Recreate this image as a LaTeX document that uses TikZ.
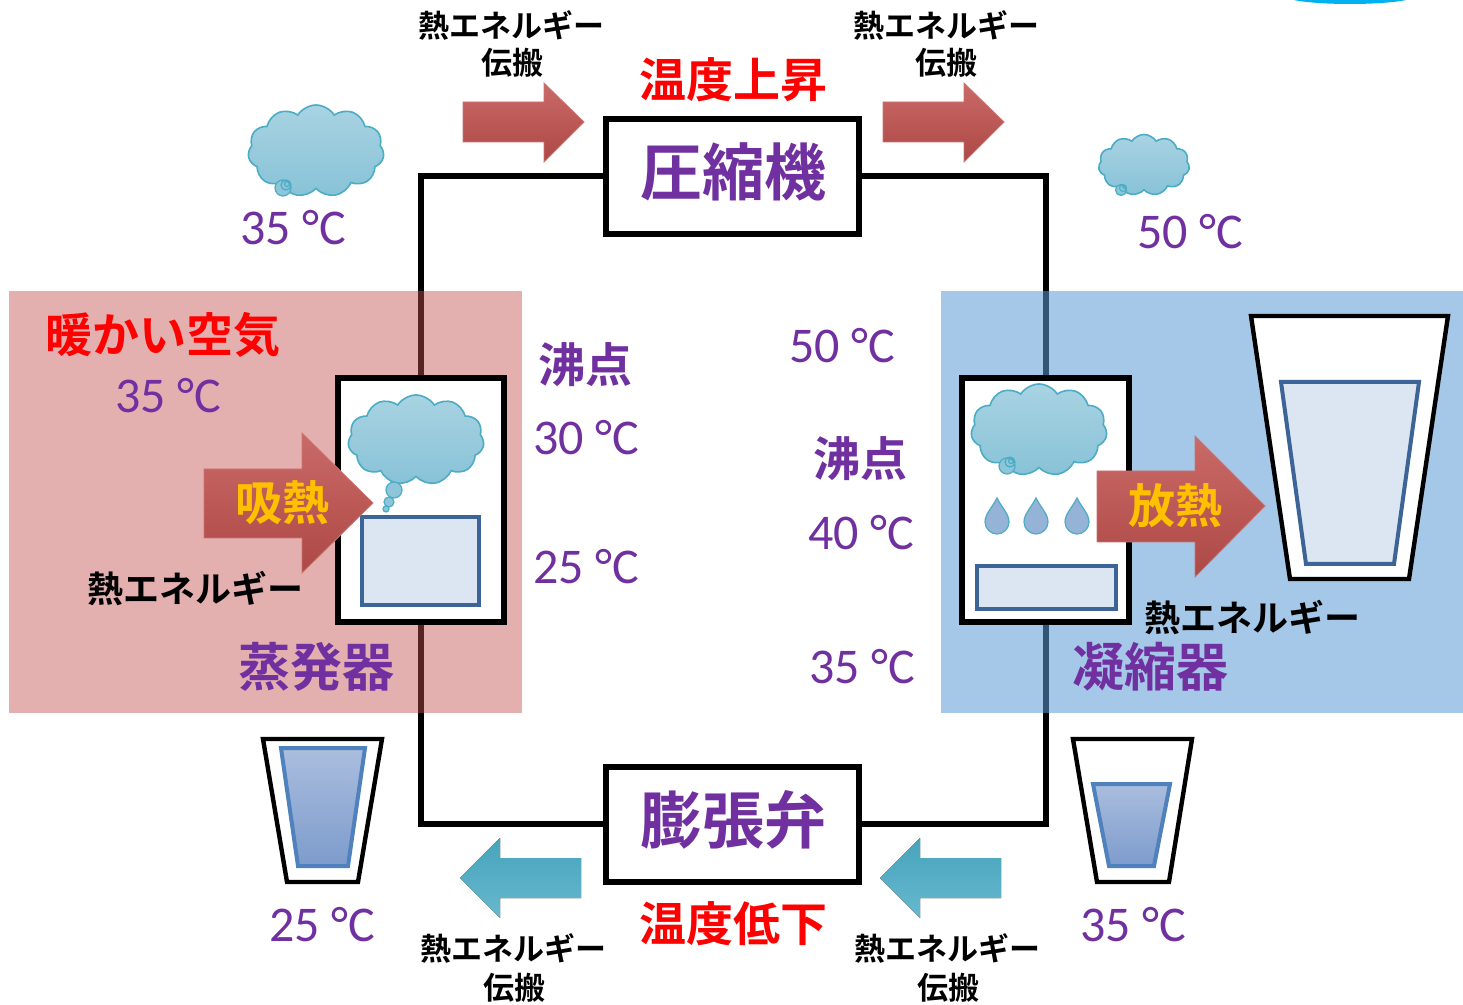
\documentclass[tikz,border=0pt]{standalone}
\usepackage{fontspec}
\usetikzlibrary{shapes.symbols}
\newfontfamily\jpfont{Noto Sans CJK JP Bold}
\newfontfamily\numfont{Carlito}
\definecolor{purp}{HTML}{7030A0}
\definecolor{hotred}{HTML}{C0504D}
\definecolor{coolblue}{HTML}{5B9BD5}
\definecolor{gold}{HTML}{FFC000}
\definecolor{cloudedge}{HTML}{4BACC6}
\definecolor{cloudtop}{HTML}{A8D3E2}
\definecolor{cloudbot}{HTML}{88C2D7}
\definecolor{tankedge}{HTML}{3D6496}
\definecolor{tankfill}{HTML}{DCE6F2}
\definecolor{wateredge}{HTML}{4F81BD}
\definecolor{watertop}{HTML}{AABEDE}
\definecolor{waterbot}{HTML}{7D9BCC}
\definecolor{dropfill}{HTML}{95B3D7}
\definecolor{sky}{HTML}{00B0F0}
\begin{document}
\begin{tikzpicture}[x=0.5pt,y=-0.5pt,
  pipe/.style={line width=3pt, draw=black},
  unitbox/.style={draw=black, line width=3pt, fill=white, inner sep=0},
  tank/.style={draw=tankedge, line width=2pt, fill=tankfill, inner sep=0},
  cloudy/.style={cloud, cloud puffs=11, cloud puff arc=115, aspect=1.5,
    draw=cloudedge, line width=0.8pt, top color=cloudtop, bottom color=cloudbot, inner sep=0},
  puff/.style={draw=cloudedge, line width=0.6pt, fill=cloudbot!80!cloudtop},
  redarrow/.style={top color=hotred!85!white, bottom color=hotred!90!black, draw=hotred!80!white, line width=0.4pt},
  cyanarrow/.style={top color=cloudedge!95!black, bottom color=cloudedge!85!white, draw=none},
  cup/.style={draw=black, line width=2.2pt, fill=white},
  water/.style={draw=wateredge, line width=2pt, top color=watertop, bottom color=waterbot},
  drop/.style={draw=cloudedge, line width=0.6pt, fill=dropfill},
  jpsmall/.style={font={\jpfont\fontsize{15.5}{18}\selectfont}, inner sep=0},
  jpmid/.style={font={\jpfont\fontsize{18}{21}\selectfont}, inner sep=0},
  jplarge/.style={font={\jpfont\fontsize{23.5}{27}\selectfont}, inner sep=0},
  jpunit/.style={font={\jpfont\fontsize{26}{30}\selectfont}, text=purp, inner sep=0},
  jptitle/.style={font={\jpfont\fontsize{31}{36}\selectfont}, text=purp, inner sep=0},
  temp/.style={font={\numfont\fontsize{25}{30}\selectfont}, text=purp, inner sep=0}]
\useasboundingbox (0,0) rectangle (1463,1005);

% blue disc peeking in at the top edge
\fill[sky] (1350,-4) ellipse [x radius=65, y radius=8];

% machine boxes
\node[unitbox, minimum width=126.5pt, minimum height=57.5pt] (comp) at (732.5,176.5) {};
\node[unitbox, minimum width=126.5pt, minimum height=57.5pt] (valve) at (732.5,824) {};
\node[unitbox, minimum width=83pt, minimum height=122pt] (evap) at (421,500) {};
\node[unitbox, minimum width=83.5pt, minimum height=122pt] (cond) at (1045.5,500) {};

% refrigerant loop
\draw[pipe] (comp.west) -| (evap.north);
\draw[pipe] (evap.south) |- (valve.west);
\draw[pipe] (comp.east) -| (cond.north);
\draw[pipe] (cond.south) |- (valve.east);

% warm and cool zones
\fill[hotred, fill opacity=0.45] (9,291) rectangle (522,713);
\fill[coolblue, fill opacity=0.55] (941,291) rectangle (1463,713);

% boxes redrawn above the zones
\node[unitbox, minimum width=83pt, minimum height=122pt] at (evap) {};
\node[unitbox, minimum width=83.5pt, minimum height=122pt] at (cond) {};
\node[unitbox, minimum width=126.5pt, minimum height=57.5pt] at (comp) {};
\node[unitbox, minimum width=126.5pt, minimum height=57.5pt] at (valve) {};

\node[jptitle] (compL) at (733,172) {圧縮機};
\node[jptitle] (valveL) at (733,820) {膨張弁};

% evaporator contents
\node[cloudy, minimum width=68pt, minimum height=45pt] (evcloud) at (416,440) {};
\draw[puff] (394,490) circle [radius=8];
\draw[puff] (389,502) circle [radius=5];
\draw[puff] (386,509) circle [radius=3];
\node[tank, minimum width=58.5pt, minimum height=44pt] (evtank) at (420.5,561) {};

% condenser contents
\node[cloudy, minimum width=68pt, minimum height=46pt] (cdcloud) at (1039,430) {};
\draw[puff] (1007,466) circle [radius=8];
\draw[cloudedge, line width=0.6pt] (1010,462) circle [radius=5] (1011,461) circle [radius=2.5];
\foreach \dx in {997,1036,1077}
  \draw[drop] (\dx,498) .. controls (\dx-5,508) and (\dx-12,514) .. (\dx-12,522)
    .. controls (\dx-12,529) and (\dx-6,534) .. (\dx,534)
    .. controls (\dx+6,534) and (\dx+12,529) .. (\dx+12,522)
    .. controls (\dx+12,514) and (\dx+5,508) .. (\dx,498) -- cycle;
\node[tank, minimum width=69.5pt, minimum height=21.5pt] (cdtank) at (1046.5,587.5) {};

% outside clouds
\node[cloudy, minimum width=68pt, minimum height=46pt] (cloudL) at (316,151) {};
\draw[puff] (283,188) circle [radius=8];
\draw[cloudedge, line width=0.6pt] (286,185) circle [radius=5] (287,184) circle [radius=2.5];
\node[cloudy, minimum width=45.5pt, minimum height=30.5pt] (cloudR) at (1144,165) {};
\draw[puff] (1121,190) circle [radius=5.5];
\draw[cloudedge, line width=0.5pt] (1123,188) circle [radius=3.5] (1124,187) circle [radius=1.5];

% heat arrows
\draw[redarrow] (204,469) -- (302,469) -- (302,433) -- (373,503) -- (302,573) -- (302,538) -- (204,538) -- cycle;
\node[jplarge, text=gold] (absorb) at (282,503) {吸熱};
\draw[redarrow] (1097,471) -- (1195,471) -- (1195,436) -- (1265,506) -- (1195,577) -- (1195,542) -- (1097,542) -- cycle;
\node[jplarge, text=gold] (release) at (1175,506) {放熱};

% transport arrows
\foreach \ox in {0,420}
  \draw[redarrow] (463+\ox,102) -- (544+\ox,102) -- (544+\ox,83) -- (584+\ox,122) -- (544+\ox,162) -- (544+\ox,142) -- (463+\ox,142) -- cycle;
\foreach \ox in {0,420}
  \fill[cyanarrow] (581+\ox,858) -- (500+\ox,858) -- (500+\ox,838) -- (460+\ox,878) -- (500+\ox,918) -- (500+\ox,898) -- (581+\ox,898) -- cycle;

% cups
\draw[cup] (1251,316) -- (1448,316) -- (1409,579) -- (1290,579) -- cycle;
\draw[tank] (1281,382) -- (1419,382) -- (1394,564) -- (1306,564) -- cycle;
\draw[cup] (263,739) -- (382,739) -- (358,882) -- (287,882) -- cycle;
\draw[water] (281,748) -- (365,748) -- (348,866) -- (298,866) -- cycle;
\draw[cup] (1073,739) -- (1192,739) -- (1169,882) -- (1097,882) -- cycle;
\draw[water] (1093,784) -- (1170,784) -- (1154,866) -- (1109,866) -- cycle;

% labels
\node[jpsmall] (t1a) at (511,25) {熱エネルギー};
\node[jpsmall] (t1b) at (512,63) {伝搬};
\node[jpsmall] (t2a) at (946,25) {熱エネルギー};
\node[jpsmall] (t2b) at (946,63) {伝搬};
\node[jpsmall] (b1a) at (513,948) {熱エネルギー};
\node[jpsmall] (b1b) at (514,988) {伝搬};
\node[jpsmall] (b2a) at (947,948) {熱エネルギー};
\node[jpsmall] (b2b) at (948,988) {伝搬};
\node[jplarge, text=red] (rise) at (733,80) {温度上昇};
\node[jplarge, text=red] (fall) at (733,924) {温度低下};
\node[jplarge, text=red] (warm) at (163,335) {暖かい空気};
\node[jpmid] (heatL) at (195,588) {熱エネルギー};
\node[jpmid] (heatR) at (1252,617) {熱エネルギー};
\node[jpunit] (evapL) at (316,667) {蒸発器};
\node[jpunit] (condL) at (1150,667) {凝縮器};
\node[jplarge, text=purp] (bpL) at (585,365) {沸点};
\node[jplarge, text=purp] (bpR) at (860,459) {沸点};

\node[temp] (tc1) at (293,228) {35 °C};
\node[temp] (tc2) at (1190,232) {50 °C};
\node[temp] (tc3) at (168,396) {35 °C};
\node[temp] (tc4) at (586,438) {30 °C};
\node[temp] (tc5) at (586,567) {25 °C};
\node[temp] (tc6) at (842,346) {50 °C};
\node[temp] (tc7) at (861,533) {40 °C};
\node[temp] (tc8) at (862,667) {35 °C};
\node[temp] (tc9) at (322,925) {25 °C};
\node[temp] (tc10) at (1133,925) {35 °C};
\end{tikzpicture}
\end{document}
